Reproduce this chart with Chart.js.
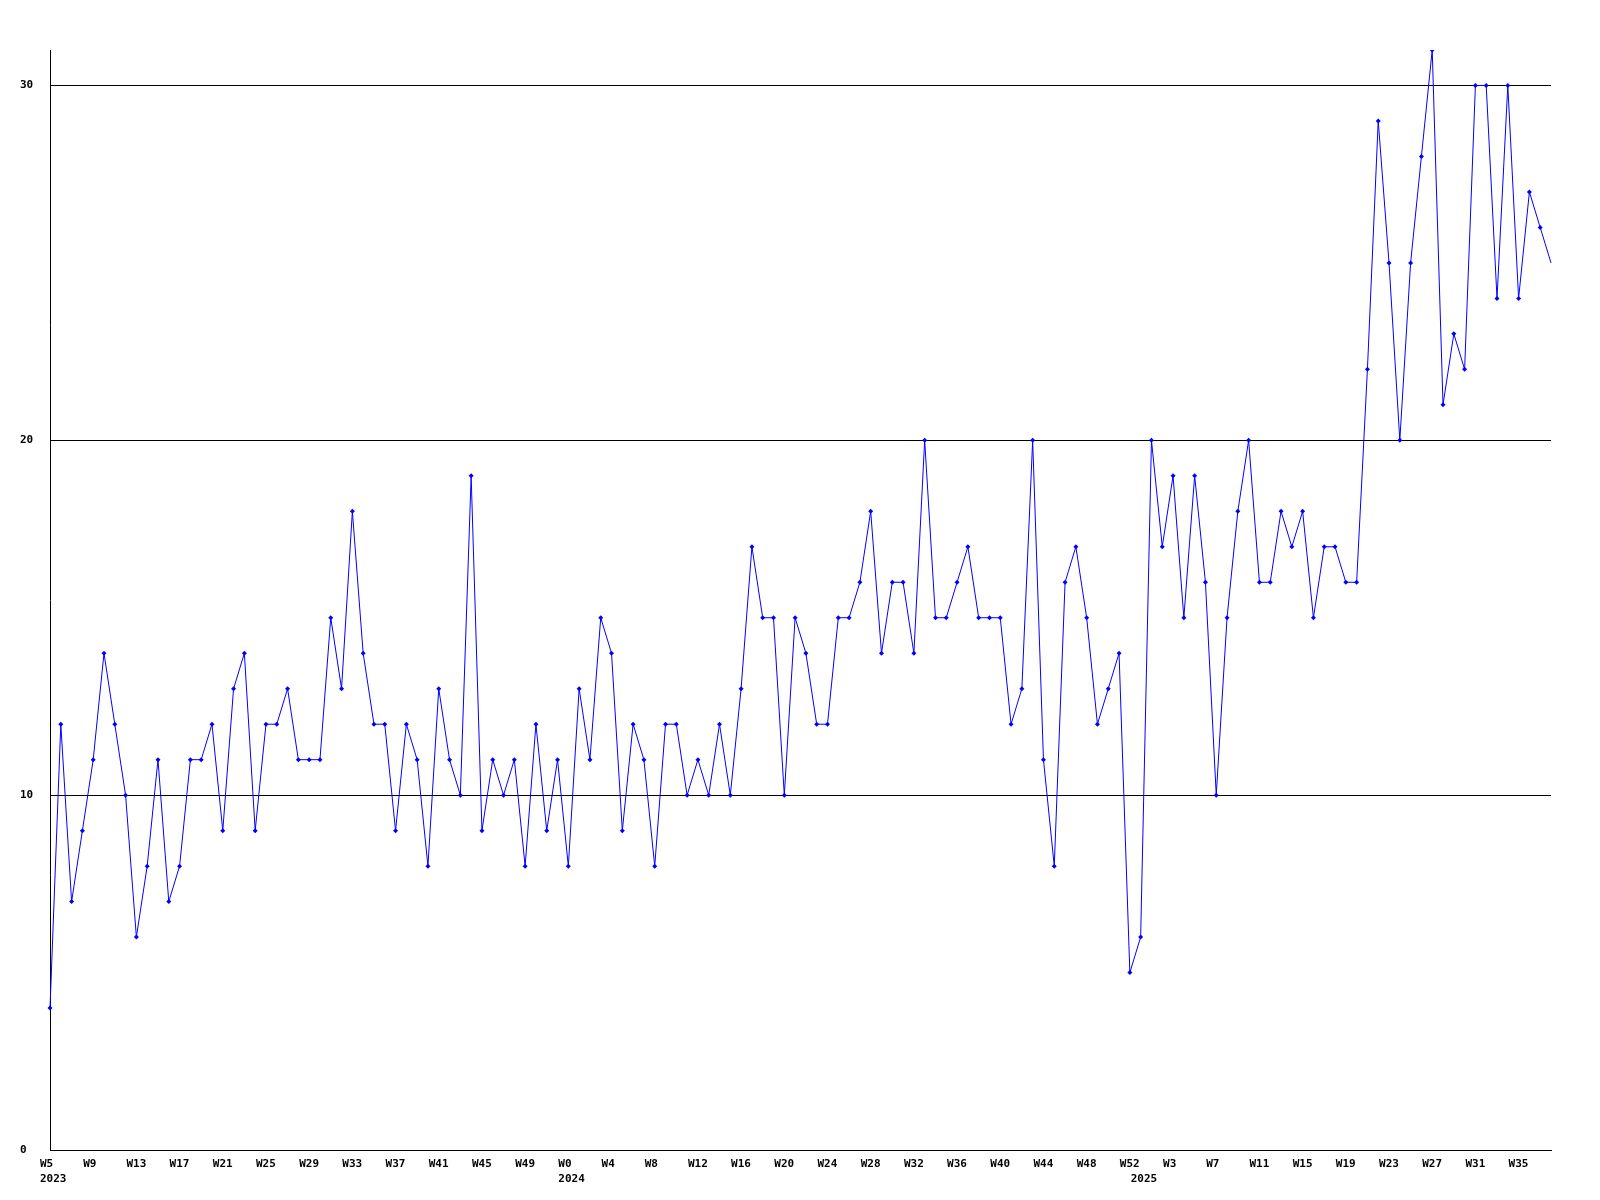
<!DOCTYPE html>
<html>
<head>
<meta charset="utf-8">
<title>Weekly counts</title>
<script src="https://cdn.jsdelivr.net/npm/chart.js@4.4.1/dist/chart.umd.min.js"></script>
<style>
    html, body { margin: 0; padding: 0; background: #fff; }
    #wrap { width: 1600px; height: 1200px; }
</style>
</head>
<body>
<div id="wrap"><canvas id="weekChart" width="1600" height="1200"></canvas></div>
<script>
// week ranges per year (first and last week number shown)
const years = [2023, 2024, 2025];
const firstWeek = [5, 0, 0];
const lastWeek = [52, 52, 38];

// weekly values
const values2023 = [
    4, 12, 7, 9, 11, 14, 12, 10, 6, 8, 11, 7, 8, 11, 11, 12, 9, 13, 14, 9,
    12, 12, 13, 11, 11, 11, 15, 13, 18, 14, 12, 12, 9, 12, 11, 8, 13, 11, 10, 19,
    9, 11, 10, 11, 8, 12, 9, 11
];
const values2024 = [
    8, 13, 11, 15, 14, 9, 12, 11, 8, 12, 12, 10, 11, 10, 12, 10, 13, 17, 15, 15,
    10, 15, 14, 12, 12, 15, 15, 16, 18, 14, 16, 16, 14, 20, 15, 15, 16, 17, 15, 15,
    15, 12, 13, 20, 11, 8, 16, 17, 15, 12, 13, 14, 5
];
const values2025 = [
    6, 20, 17, 19, 15, 19, 16, 10, 15, 18, 20, 16, 16, 18, 17, 18, 15, 17, 17, 16,
    16, 22, 29, 25, 20, 25, 28, 31, 21, 23, 22, 30, 30, 24, 30, 24, 27, 26, 25
];

const yTicks = [0, 10, 20, 30];
const yMax = 31;
const labelEvery = 4;

// build category labels
const weekLabels = [];
const yearOfLabel = [];
years.forEach((y, k) => {
    for (let w = firstWeek[k]; w <= lastWeek[k]; w++) {
        weekLabels.push('W' + w);
        yearOfLabel.push(y);
    }
});
const series = values2023.concat(values2024, values2025);

function tickText(i) {
    const yearStart = i === 0 || yearOfLabel[i] !== yearOfLabel[i - 1];
    const shown = i % labelEvery === 0;
    if (shown && yearStart) return [weekLabels[i], String(yearOfLabel[i])];
    if (shown) return weekLabels[i];
    if (yearStart) return ['', String(yearOfLabel[i])];
    return '';
}

const monoFont = { family: '"DejaVu Sans Mono", "Liberation Mono", monospace', size: 11, weight: 'bold', lineHeight: 1.36 };

new Chart(document.getElementById('weekChart').getContext('2d'), {
    type: 'line',
    data: {
        labels: weekLabels,
        datasets: [{
            data: series,
            borderColor: '#0000ff',
            backgroundColor: '#0000ff',
            borderWidth: 1,
            tension: 0,
            fill: false,
            pointStyle: 'rectRot',
            pointRadius: series.map((_, i) => i === series.length - 1 ? 0 : 2.5),
            pointBorderWidth: 0,
            pointBackgroundColor: '#0000ff'
        }]
    },
    options: {
        responsive: false,
        animation: false,
        devicePixelRatio: 1,
        layout: { padding: { left: 20, right: 49, top: 50, bottom: 0 } },
        plugins: { legend: { display: false }, tooltip: { enabled: false } },
        scales: {
            x: {
                type: 'category',
                offset: false,
                grid: { display: false, drawTicks: false },
                border: { display: true, color: '#000', width: 1 },
                afterFit: (scale) => { scale.height = 50; },
                ticks: {
                    autoSkip: false,
                    maxRotation: 0,
                    minRotation: 0,
                    align: 'start',
                    labelOffset: -10,
                    padding: 7,
                    color: '#000',
                    font: monoFont,
                    callback: (val, i) => tickText(i)
                }
            },
            y: {
                min: 0,
                max: yMax,
                afterBuildTicks: (scale) => { scale.ticks = yTicks.map(v => ({ value: v })); },
                afterFit: (scale) => { scale.width = 30; },
                grid: { color: '#000', lineWidth: 1, drawTicks: false },
                border: { display: true, color: '#000', width: 1 },
                ticks: {
                    crossAlign: 'far',
                    padding: 0,
                    color: '#000',
                    font: monoFont
                }
            }
        }
    }
});
</script>
</body>
</html>
